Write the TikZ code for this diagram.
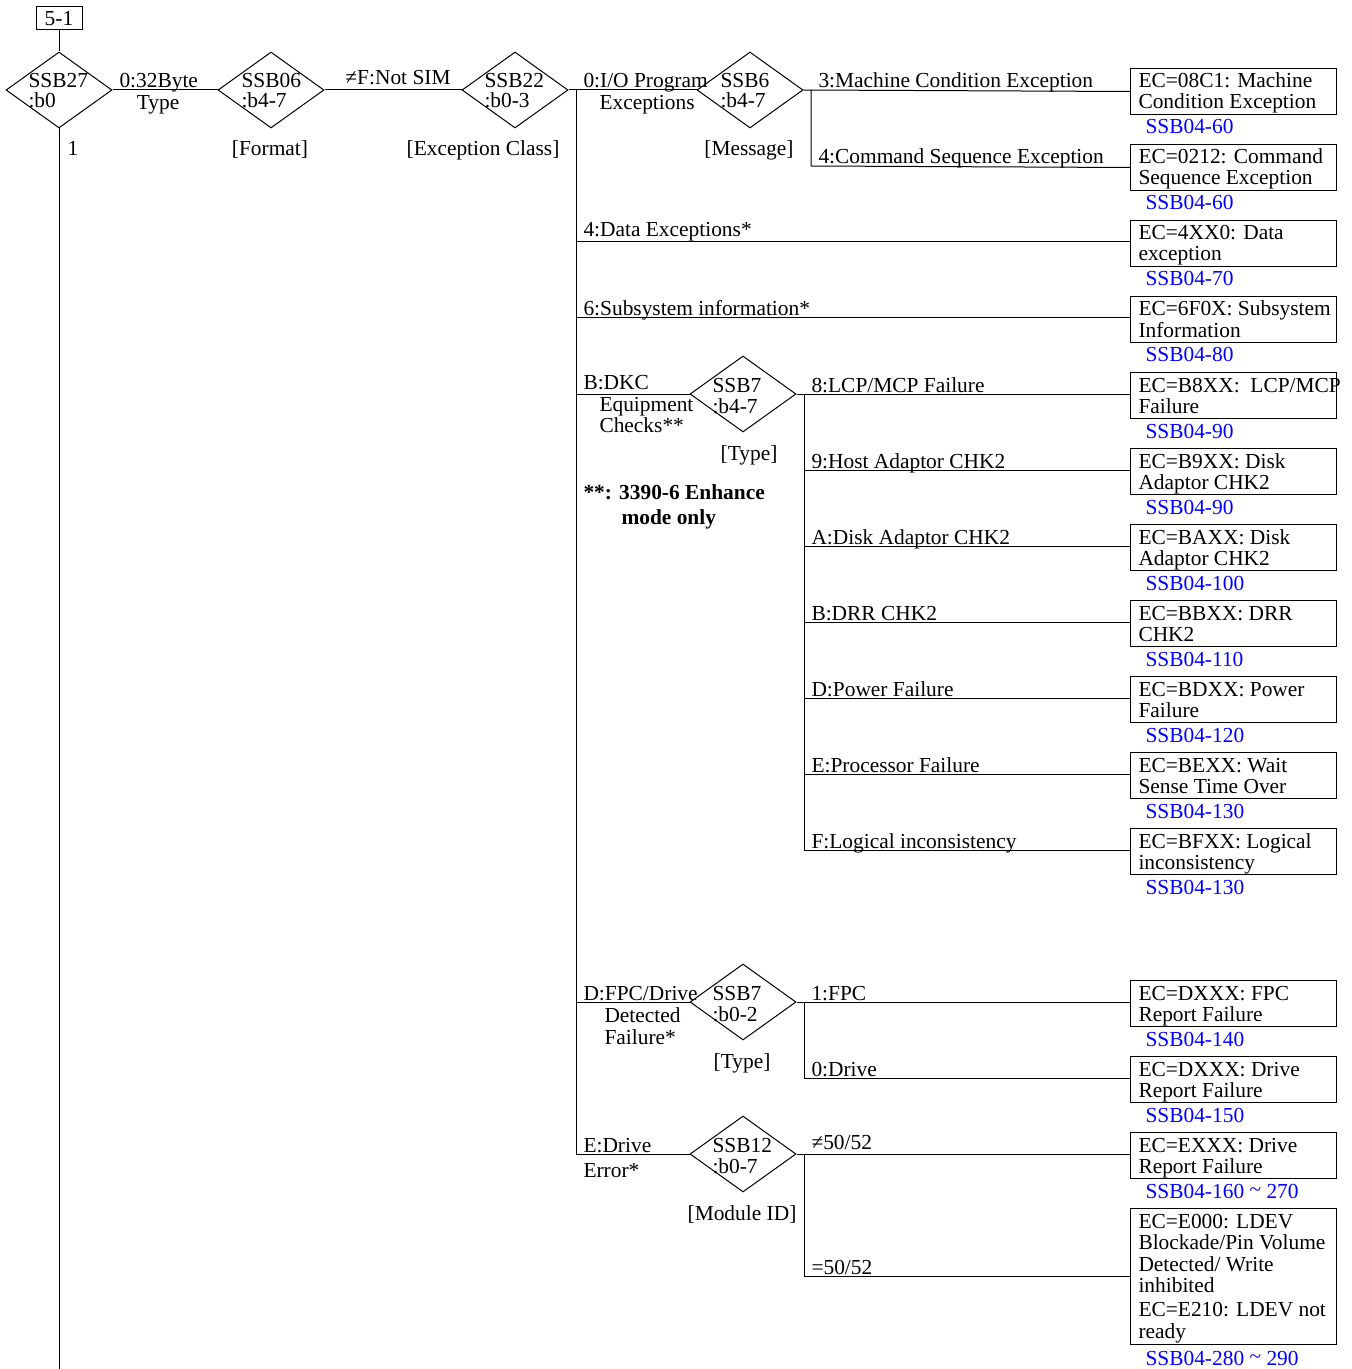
\documentclass[tikz,border=0pt]{standalone}
\usepackage{fontspec}
\setmainfont{Liberation Serif}
\usetikzlibrary{shapes.geometric}
\newcommand\ecbx[5]{%
  \node[ecbox] (#1) at (1130,#2) {};
  \node[lbl] (#1a) at (1138,#2+20) {#3};
  \node[lbl] (#1b) at (1138,#2+41) {#4};
  \node[ref] (#1r) at (1145,#2+66) {#5};}
\begin{document}
\begin{tikzpicture}[x=0.5pt,y=-0.5pt, line width=0.5pt,
  every node/.style={inner sep=0pt, font=\fontsize{10.7}{10.5}\selectfont},
  dia/.style={draw, diamond, minimum width=53pt, minimum height=38pt},
  ecbox/.style={draw, rectangle, anchor=north west, minimum width=103pt, minimum height=23pt},
  lbl/.style={anchor=base west},
  clbl/.style={anchor=base},
  ref/.style={anchor=base west, text=blue}]
\useasboundingbox (0,0) rectangle (1351,1369);

% start box
\node[draw, minimum width=23pt, minimum height=11.5pt] (start) at (59,18.5) {5-1};

% diamonds
\node[dia] (d27) at (59,90) {};
\node[lbl] at (28,88) {SSB27}; \node[lbl] at (28,108) {:b0};
\node[dia] (d06) at (271,90) {};
\node[lbl] at (241,88) {SSB06}; \node[lbl] at (241,108) {:b4-7};
\node[dia] (d22) at (515,90) {};
\node[lbl] at (484,88) {SSB22}; \node[lbl] at (484,108) {:b0-3};
\node[dia] (d6) at (750,90) {};
\node[lbl] at (720,88) {SSB6}; \node[lbl] at (720,108) {:b4-7};
\node[dia] (d7a) at (743,394) {};
\node[lbl] at (712,392) {SSB7}; \node[lbl] at (712,413) {:b4-7};
\node[dia] (d7b) at (743,1002) {};
\node[lbl] at (712,1000) {SSB7}; \node[lbl] at (712,1021) {:b0-2};
\node[dia] (d12) at (743,1154) {};
\node[lbl] at (712,1152) {SSB12}; \node[lbl] at (712,1173) {:b0-7};

% boxes
\ecbx{b1}{68}{EC=08C1: Machine}{Condition Exception}{SSB04-60}
\ecbx{b2}{144}{EC=0212: Command}{Sequence Exception}{SSB04-60}
\ecbx{b3}{220}{EC=4XX0: Data}{exception}{SSB04-70}
\ecbx{b4}{296}{EC=6F0X: Subsystem}{Information}{SSB04-80}
\ecbx{b5}{372}{EC=B8XX:\ \ LCP/MCP}{Failure}{SSB04-90}
\ecbx{b6}{448}{EC=B9XX: Disk}{Adaptor CHK2}{SSB04-90}
\ecbx{b7}{524}{EC=BAXX: Disk}{Adaptor CHK2}{SSB04-100}
\ecbx{b8}{600}{EC=BBXX: DRR}{CHK2}{SSB04-110}
\ecbx{b9}{676}{EC=BDXX: Power}{Failure}{SSB04-120}
\ecbx{b10}{752}{EC=BEXX: Wait}{Sense Time Over}{SSB04-130}
\ecbx{b11}{828}{EC=BFXX: Logical}{inconsistency}{SSB04-130}
\ecbx{b12}{980}{EC=DXXX: FPC}{Report Failure}{SSB04-140}
\ecbx{b13}{1056}{EC=DXXX: Drive}{Report Failure}{SSB04-150}
\ecbx{b14}{1132}{EC=EXXX: Drive}{Report Failure}{SSB04-160 {\raisebox{0.15ex}{\textasciitilde}} 270}
\node[draw, anchor=north west, minimum width=103pt, minimum height=68pt] (b15) at (1130,1208) {};
\node[lbl] at (1138,1228) {EC=E000: LDEV};
\node[lbl] at (1138,1249) {Blockade/Pin Volume};
\node[lbl] at (1138,1271) {Detected/ Write};
\node[lbl] at (1138,1292) {inhibited};
\node[lbl] at (1138,1316) {EC=E210: LDEV not};
\node[lbl] at (1138,1338) {ready};
\node[ref] at (1145,1365) {SSB04-280 {\raisebox{0.15ex}{\textasciitilde}} 290};

% coordinates
\coordinate (trTop) at (576,90);
\coordinate (trBot) at (576,1154);
\coordinate (t3) at (576,242);
\coordinate (t4) at (576,318);
\coordinate (t5) at (576,394);
\coordinate (t12) at (576,1002);
\coordinate (s6a) at (811,90);
\coordinate (s6b) at (811,166);
\coordinate (s7top) at (804,394);
\coordinate (s7bot) at (804,850);
\coordinate (sFtop) at (804,1002);
\coordinate (sFbot) at (804,1078);
\coordinate (sEtop) at (804,1154);
\coordinate (sEbot) at (804,1276);
\coordinate (bottom) at (59,1369);

% connectors
\draw (start) -- (d27.north);
\draw (d27.south) -- (bottom);
\draw (d27.east) -- (d06.west);
\draw (d06.east) -- (d22.west);
\draw (d22.east) -- (d6.west);
\draw (trTop) -- (trBot);
\draw (d6.east) -- (b1.west);
\draw (s6a) -- (s6b) -- (b2.west);
\draw (t3) -- (t3 -| b3.west);
\draw (t4) -- (t4 -| b4.west);
\draw (t5) -- (d7a.west);
\draw (d7a.east) -- (d7a.east -| b5.west);
\draw (s7top) -- (s7bot);
\foreach \b/\y in {b6/470,b7/546,b8/622,b9/698,b10/774,b11/850}
  \draw (804,\y) -- (\b.west |- 804,\y);
\draw (t12) -- (d7b.west);
\draw (d7b.east) -- (d7b.east -| b12.west);
\draw (sFtop) -- (sFbot) -- (sFbot -| b13.west);
\draw (trBot) -- (d12.west);
\draw (d12.east) -- (d12.east -| b14.west);
\draw (sEtop) -- (sEbot) -- (sEbot -| b15.west);

% labels
\node[lbl] at (119,88) {0:32Byte};
\node[clbl] at (158,110) {Type};
\node[lbl] at (67,156) {1};
\node[clbl] at (270,156) {[Format]};
\node[clbl] at (398,85) {≠F:Not SIM};
\node[clbl] at (483,156) {[Exception Class]};
\node[lbl] at (583,88) {0:I/O Program};
\node[lbl] at (599,110) {Exceptions};
\node[clbl] at (749,156) {[Message]};
\node[lbl] at (818,88) {3:Machine Condition Exception};
\node[lbl] at (818,164) {4:Command Sequence Exception};
\node[lbl] at (583,237) {4:Data Exceptions*};
\node[lbl] at (583,316) {6:Subsystem information*};
\node[lbl] at (583,389) {B:DKC};
\node[lbl] at (599,411) {Equipment};
\node[lbl] at (599,432) {Checks**};
\node[clbl] at (749,460) {[Type]};
\node[lbl, font=\fontsize{10.7}{10.5}\selectfont\bfseries] at (583,499) {**: 3390-6 Enhance};
\node[lbl, font=\fontsize{10.7}{10.5}\selectfont\bfseries] at (621,524) {mode only};
\node[lbl] at (811,392) {8:LCP/MCP Failure};
\node[lbl] at (811,468) {9:Host Adaptor CHK2};
\node[lbl] at (811,544) {A:Disk Adaptor CHK2};
\node[lbl] at (811,620) {B:DRR CHK2};
\node[lbl] at (811,696) {D:Power Failure};
\node[lbl] at (811,772) {E:Processor Failure};
\node[lbl] at (811,848) {F:Logical inconsistency};
\node[lbl] at (583,1000) {D:FPC/Drive};
\node[lbl] at (604,1022) {Detected};
\node[lbl] at (604,1044) {Failure*};
\node[clbl] at (742,1068) {[Type]};
\node[lbl] at (811,1000) {1:FPC};
\node[lbl] at (811,1076) {0:Drive};
\node[lbl] at (583,1152) {E:Drive};
\node[lbl] at (583,1177) {Error*};
\node[clbl] at (742,1220) {[Module ID]};
\node[lbl] at (811,1149) {≠50/52};
\node[lbl] at (811,1274) {=50/52};
\end{tikzpicture}
\end{document}
